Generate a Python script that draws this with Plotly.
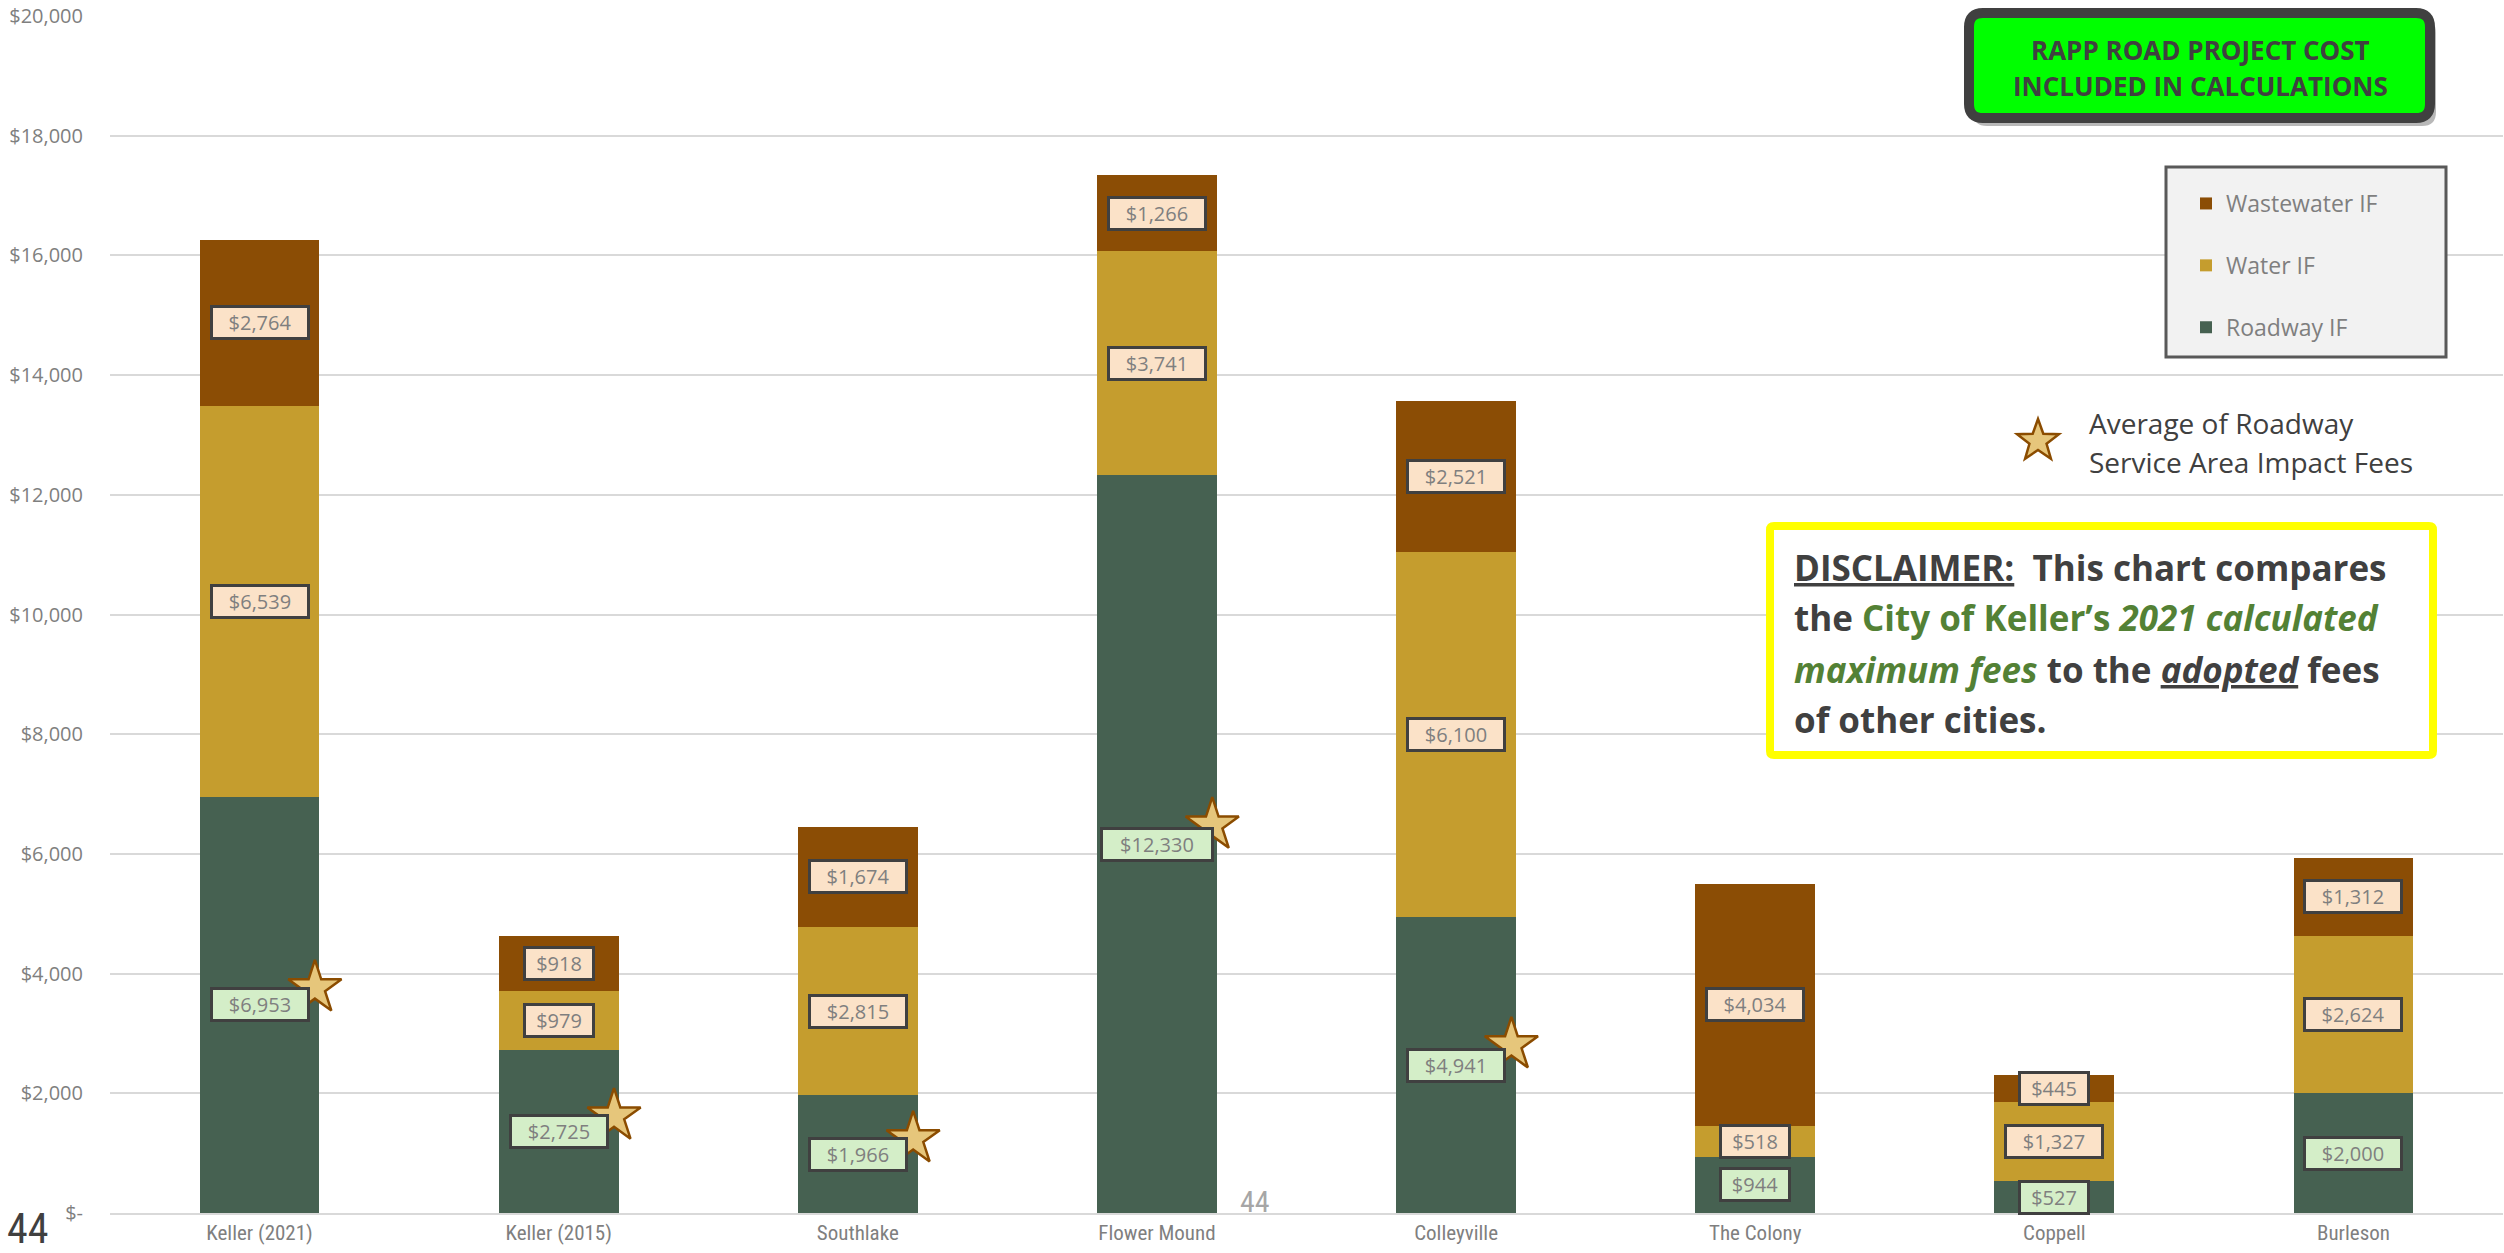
import math
import plotly.graph_objects as go

# ---------------- data ----------------
categories = ["Keller (2021)", "Keller (2015)", "Southlake", "Flower Mound",
              "Colleyville", "The Colony", "Coppell", "Burleson"]
roadway = [6953, 2725, 1966, 12330, 4941, 944, 527, 2000]
water = [6539, 979, 2815, 3741, 6100, 518, 1327, 2624]
wastewater = [2764, 918, 1674, 1266, 2521, 4034, 445, 1312]
avg_roadway_service_area = [3760, 1620, 1240, 6480, 2810, None, None, None]
y_tickvals = [0, 2000, 4000, 6000, 8000, 10000, 12000, 14000, 16000, 18000, 20000]
y_ticktext = ["$-", "$2,000", "$4,000", "$6,000", "$8,000", "$10,000",
              "$12,000", "$14,000", "$16,000", "$18,000", "$20,000"]

# ---------------- style ----------------
C_ROAD = "#466151"
C_WATER = "#C59D2E"
C_WASTE = "#8B4D05"
GRID = "#D9D9D9"
TXT_GRAY = "#7F7F7F"
DARK = "#404040"
FONT = "Open Sans, Lato, DejaVu Sans, sans-serif"
NARROW = "Liberation Sans Narrow, Roboto Condensed, Liberation Sans, sans-serif"

FIG_W, FIG_H = 2504, 1253
L, R, T, B = 110, 2503, 16, 1213
PW, PH = R - L, B - T


def px(x):
    return (x - L) / PW


def py(y):
    return (B - y) / PH


x_idx = list(range(len(categories)))
BAR_W = 0.40
STAR_OFFSET = 0.185

fig = go.Figure()
fig.add_trace(go.Bar(x=x_idx, y=roadway, name="Roadway IF", width=BAR_W,
                     marker=dict(color=C_ROAD, line=dict(width=0)),
                     legendgroup="r", legendrank=3, hoverinfo="skip"))
fig.add_trace(go.Bar(x=x_idx, y=water, name="Water IF", width=BAR_W,
                     marker=dict(color=C_WATER, line=dict(width=0)),
                     legendgroup="w", legendrank=2, hoverinfo="skip"))
fig.add_trace(go.Bar(x=x_idx, y=wastewater, name="Wastewater IF", width=BAR_W,
                     marker=dict(color=C_WASTE, line=dict(width=0)),
                     legendgroup="ww", legendrank=1, hoverinfo="skip"))

star_x = [i + STAR_OFFSET for i, v in zip(x_idx, avg_roadway_service_area) if v is not None]
star_y = [v for v in avg_roadway_service_area if v is not None]
fig.add_trace(go.Scatter(x=star_x, y=star_y, mode="markers", showlegend=False,
                         marker=dict(symbol="star", size=40, color="#E6C67B",
                                     line=dict(color="#8B4C00", width=2.5)),
                         hoverinfo="skip"))

annotations = []


def value_label(x, y, val, bg):
    s = "${:,}".format(val)
    annotations.append(dict(x=x, y=y, xref="x", yref="y", text=s, showarrow=False,
                            font=dict(family=FONT, size=20, color=TXT_GRAY),
                            bgcolor=bg, bordercolor=DARK, borderwidth=3, borderpad=2,
                            width=14 * len(s) + 6, height=25))


for i in x_idx:
    r, w, ww = roadway[i], water[i], wastewater[i]
    value_label(i, r / 2, r, "#D4EEC8")
    value_label(i, r + w / 2, w, "#FBE2C8")
    value_label(i, r + w + ww / 2, ww, "#FBE2C8")

shapes = []


def rrect(x0, y0, x1, y1, rad):
    rx, ry = rad / PW, rad / PH
    X0, X1 = px(x0), px(x1)
    Y0, Y1 = py(y0), py(y1)
    return (f"M {X0+rx},{Y0} L {X1-rx},{Y0} Q {X1},{Y0} {X1},{Y0-ry} "
            f"L {X1},{Y1+ry} Q {X1},{Y1} {X1-rx},{Y1} L {X0+rx},{Y1} "
            f"Q {X0},{Y1} {X0},{Y1+ry} L {X0},{Y0-ry} Q {X0},{Y0} {X0+rx},{Y0} Z")


# green box (with shadow)
shapes.append(dict(type="path", xref="paper", yref="paper", layer="above",
                   path=rrect(1973, 19, 2436, 126, 14),
                   fillcolor="rgba(0,0,0,0.28)", line=dict(width=0)))
shapes.append(dict(type="path", xref="paper", yref="paper", layer="above",
                   path=rrect(1969, 13, 2430, 118, 14),
                   fillcolor="#00FF00", line=dict(color="#404040", width=10)))
# legend box
shapes.append(dict(type="rect", xref="paper", yref="paper", layer="above",
                   x0=px(2166), x1=px(2446), y0=py(167), y1=py(357),
                   fillcolor="#F2F2F2", line=dict(color="#595959", width=3)))
# disclaimer box
shapes.append(dict(type="path", xref="paper", yref="paper", layer="above",
                   path=rrect(1770, 526, 2433, 755, 4),
                   fillcolor="white", line=dict(color="#FFFF00", width=8)))

# star legend symbol
cx, cy, Ro, Ri = 2038, 441, 22, 9
pts = []
for k in range(10):
    ang = math.pi * k / 5
    rr = Ro if k % 2 == 0 else Ri
    pts.append((px(cx + rr * math.sin(ang)), py(cy - rr * math.cos(ang))))
star_path = "M " + " L ".join(f"{a},{b}" for a, b in pts) + " Z"
shapes.append(dict(type="path", xref="paper", yref="paper", layer="above",
                   path=star_path, fillcolor="#E6C67B",
                   line=dict(color="#8B4C00", width=2.5)))

# texts
green_lines = ["RAPP ROAD PROJECT COST", "INCLUDED IN CALCULATIONS"]
for txt, yy in zip(green_lines, [50, 86]):
    annotations.append(dict(x=px(2200), y=py(yy), xref="paper", yref="paper",
                            text=f"<b>{txt}</b>", showarrow=False,
                            xanchor="center", yanchor="middle",
                            font=dict(family=FONT, size=26, color="#404040")))

for txt, yy in zip(["Average of Roadway", "Service Area Impact Fees"], [423, 462]):
    annotations.append(dict(x=px(2087), y=py(yy), xref="paper", yref="paper",
                            text=txt, showarrow=False, xanchor="left", yanchor="middle",
                            font=dict(family=FONT, size=28, color="#404040")))

GREEN_TXT = "#538135"
disc_lines = [
    "<b><u>DISCLAIMER:</u>\u00a0 This chart compares</b>",
    f"<b>the <span style='color:{GREEN_TXT}'>City of Keller’s <i>2021 calculated</i></span></b>",
    f"<b><span style='color:{GREEN_TXT}'><i>maximum fees</i></span> to the <i><u>adopted</u></i> fees</b>",
    "<b>of other cities.</b>",
]
for txt, yy in zip(disc_lines, [567, 617, 669, 719]):
    annotations.append(dict(x=px(1792), y=py(yy), xref="paper", yref="paper",
                            text=txt, showarrow=False, xanchor="left", yanchor="middle",
                            font=dict(family=FONT, size=35, color="#404040")))

# page numbers
annotations.append(dict(x=px(5), y=py(1228), xref="paper", yref="paper", text="44",
                        showarrow=False, xanchor="left", yanchor="middle",
                        font=dict(family=NARROW, size=42, color="#404040")))
annotations.append(dict(x=px(1238), y=py(1201), xref="paper", yref="paper", text="44",
                        showarrow=False, xanchor="left", yanchor="middle",
                        font=dict(family=NARROW, size=30, color="#A6A6A6")))

fig.update_layout(
    width=FIG_W, height=FIG_H,
    margin=dict(l=L, r=FIG_W - R, t=T, b=FIG_H - B),
    paper_bgcolor="white", plot_bgcolor="white",
    barmode="stack", bargap=0,
    showlegend=True,
    legend=dict(x=px(2186), y=py(182), xanchor="left", yanchor="top",
                traceorder="grouped", tracegroupgap=29,
                bgcolor="rgba(0,0,0,0)", borderwidth=0,
                font=dict(family=FONT, size=23, color=TXT_GRAY)),
    xaxis=dict(range=[-0.5, len(categories) - 0.5], tickmode="array",
               tickvals=x_idx, ticktext=categories, showgrid=False,
               showline=True, linecolor=GRID, linewidth=2, zeroline=False,
               ticks="", tickfont=dict(family=NARROW, size=21, color=TXT_GRAY)),
    yaxis=dict(range=[0, 20000], tickmode="array", tickvals=y_tickvals,
               ticktext=y_ticktext, showgrid=True, gridcolor=GRID, gridwidth=2,
               zeroline=False, showline=False, ticks="", ticklabelstandoff=26,
               tickfont=dict(family=FONT, size=20, color=TXT_GRAY)),
    shapes=shapes, annotations=annotations,
)

fig.write_html("out.html")
